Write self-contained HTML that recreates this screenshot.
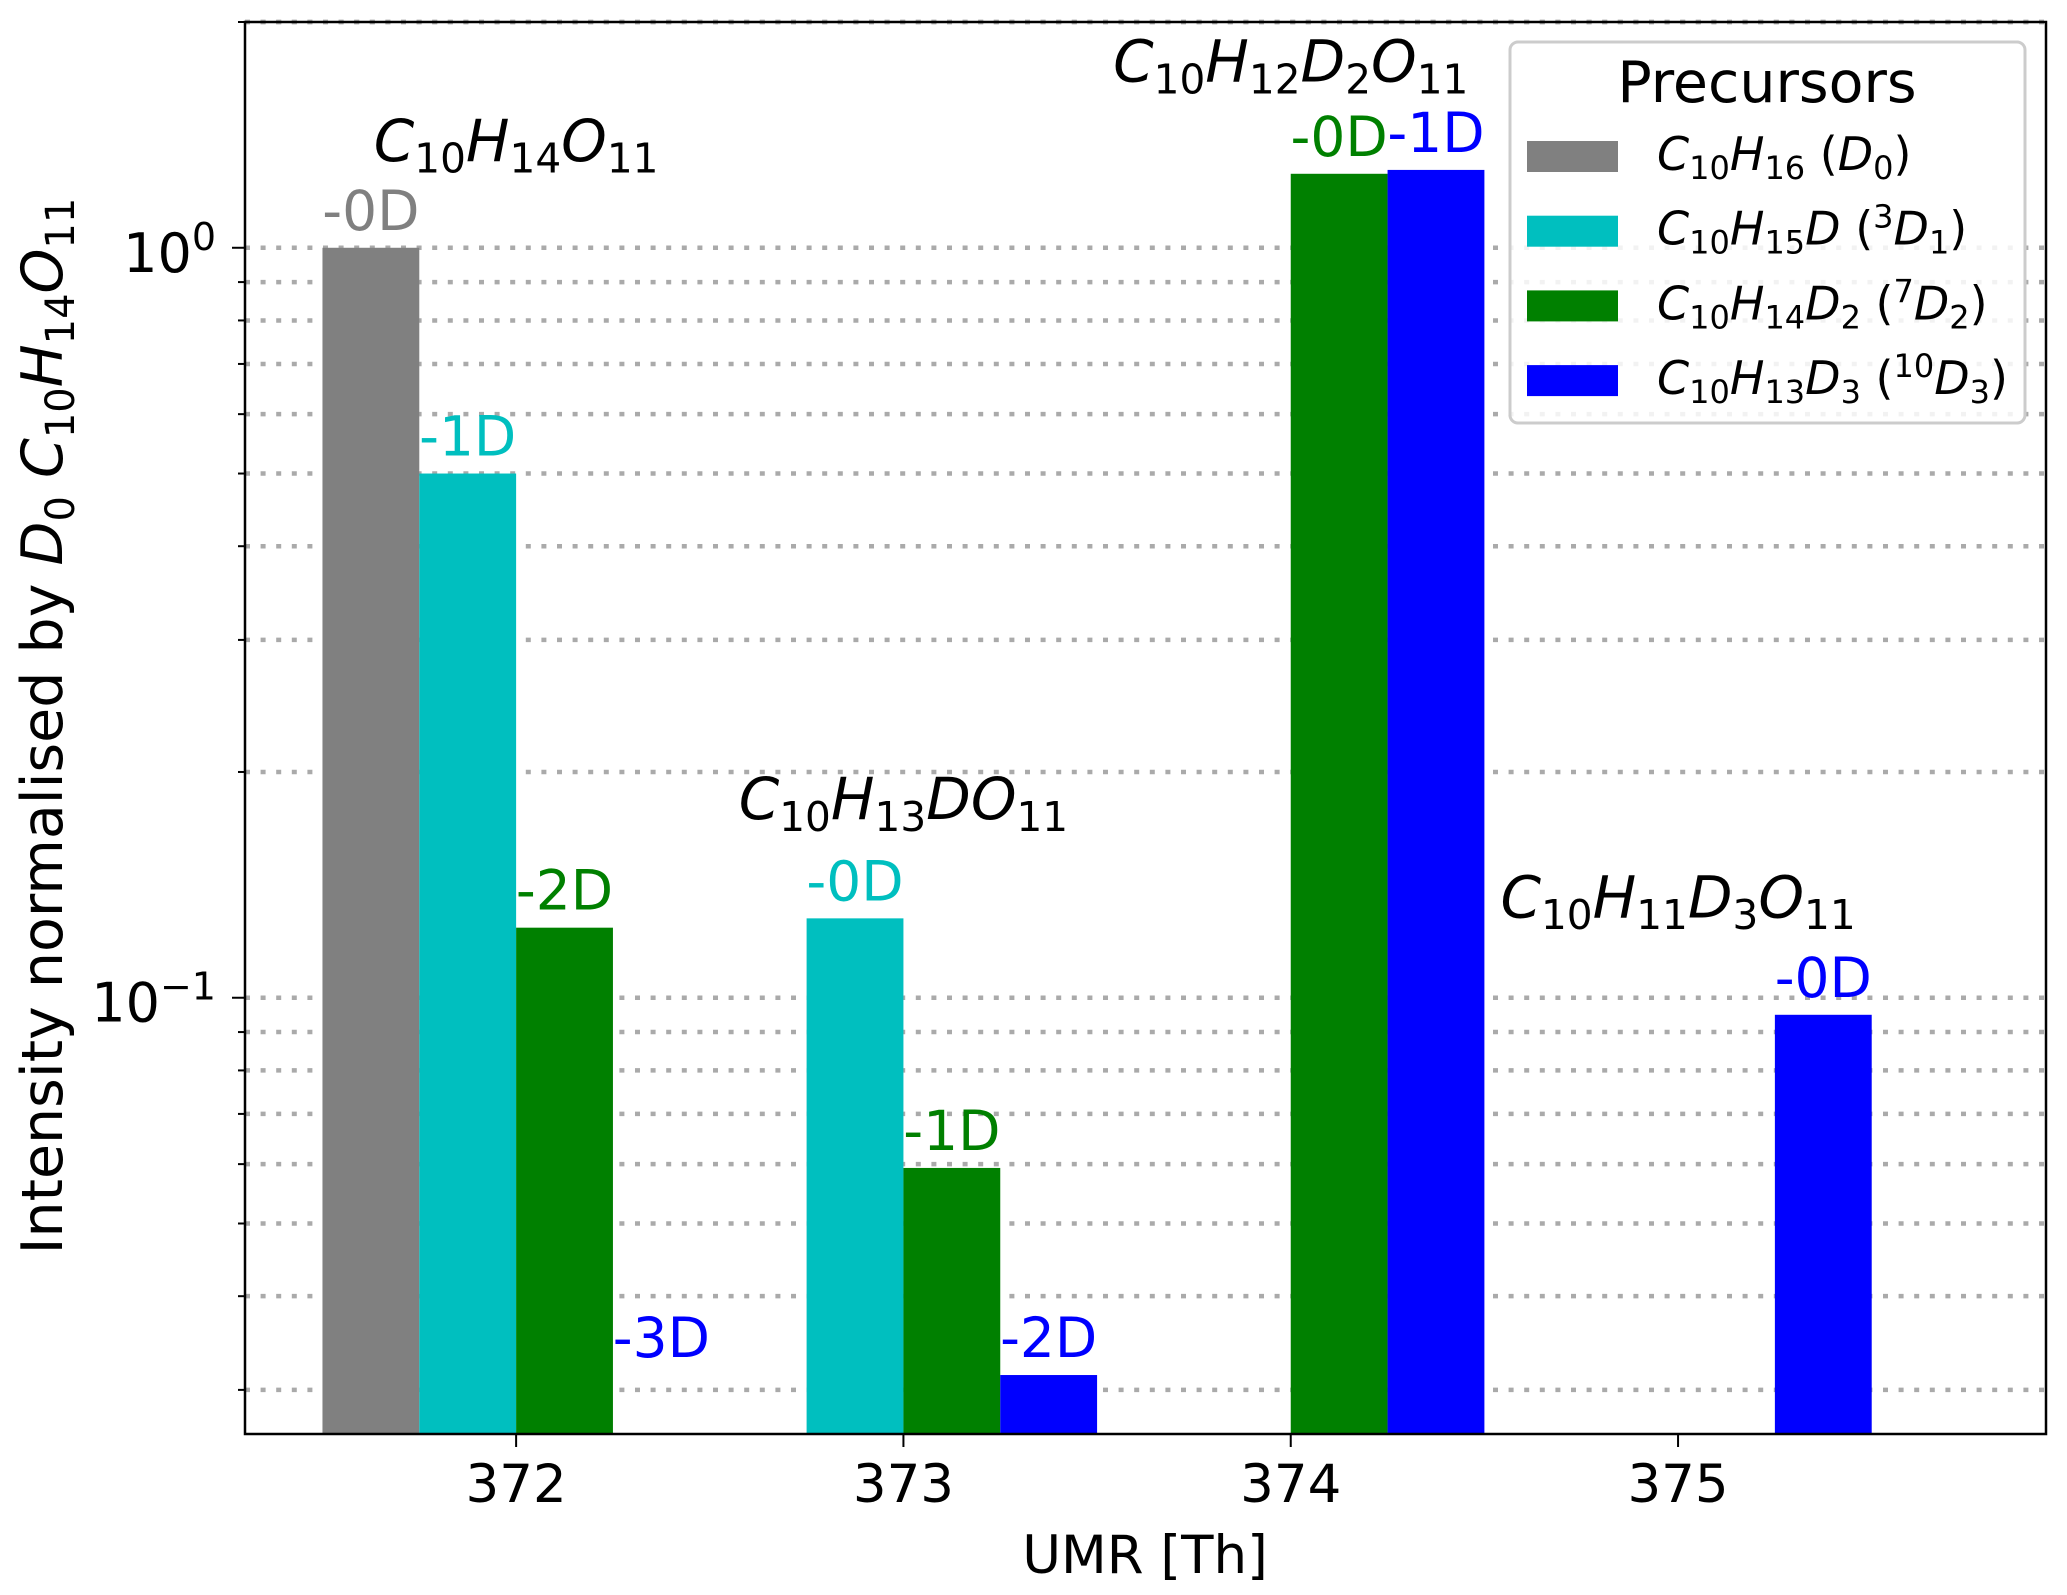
<!DOCTYPE html>
<html><head><meta charset="utf-8"><style>
html,body{margin:0;padding:0;background:#fff;}
svg{display:block;}
text{font-family:"DejaVu Sans","Liberation Sans",sans-serif;}
</style></head><body>
<svg id="chart" width="2067" height="1595" viewBox="0 0 2067 1595" xmlns="http://www.w3.org/2000/svg">
<rect x="0" y="0" width="2067" height="1595" fill="#fff"/>
<g id="grid"></g><g id="bars"></g><g id="labels"></g><g id="axes"></g><g id="legend"></g>
</svg>
<script>
const categories = [372, 373, 374, 375];
const seriesNames = ["D0", "D1", "D2", "D3"];
const greyValues  = [1.0, null, null, null];
const cyanValues  = [0.5, 0.1276, null, null];
const greenValues = [0.124, 0.0593, 1.255, null];
const blueValues  = [0.02, 0.0314, 1.27, 0.0949];
const greyTags  = ["-0D", null, null, null];
const cyanTags  = ["-1D", "-0D", null, null];
const greenTags = ["-2D", "-1D", "-0D", null];
const blueTags  = ["-3D", "-2D", "-1D", "-0D"];
const compoundLabels = ["C10H14O11", "C10H13DO11", "C10H12D2O11", "C10H11D3O11"];
const compoundLabelY = [1.306, 0.173, 1.665, 0.128];
const yMajorTicks = [0.1, 1];
const yMajorLabels = [["10","−1"], ["10","0"]];

const NS = "http://www.w3.org/2000/svg";
const L = 245, R = 2046, T = 22, B = 1434;
const xMin = 371.3, xMax = 375.95;
const yMin = 0.0262, yMax = 2.0;
function xs(v){ return L + (v - xMin) / (xMax - xMin) * (R - L); }
function ys(v){ return B - (Math.log10(v) - Math.log10(yMin)) / (Math.log10(yMax) - Math.log10(yMin)) * (B - T); }
function mk(tag, attrs, parent){ const e = document.createElementNS(NS, tag); for (const k in attrs) e.setAttribute(k, attrs[k]); parent.appendChild(e); return e; }

function mathText(parent, x, y, str, size, anchor, color){
  const t = mk("text", {x:x, y:y, "font-size":size, "text-anchor":anchor, fill:color||"#000"}, parent);
  const re = /([A-Z])(\d*)/g; let m;
  while ((m = re.exec(str))) {
    const a = document.createElementNS(NS, "tspan"); a.setAttribute("font-style","italic"); a.textContent = m[1]; t.appendChild(a);
    if (m[2]) { const s = document.createElementNS(NS, "tspan"); s.setAttribute("font-size", size*0.7); s.setAttribute("dy", size*0.2); s.textContent = m[2]; t.appendChild(s);
      const z = document.createElementNS(NS, "tspan"); z.setAttribute("dy", -size*0.2); z.textContent = "\u200b"; t.appendChild(z); }
  }
  return t;
}

const grid = document.getElementById("grid");
const gridVals = [];
for (let d = -2; d <= 0; d++) for (let k = 1; k <= 9; k++) { const v = k * Math.pow(10, d); if (v >= yMin && v <= yMax*1.001) gridVals.push(v); }
gridVals.push(2);
gridVals.forEach(v => {
  const l = mk("line", {x1:L, x2:R, y1:ys(v), y2:ys(v), stroke:"#aaaaaa", "stroke-width":4.5, "stroke-dasharray":"5 10.6"}, grid);
  
  
});

const bars = document.getElementById("bars"), labels = document.getElementById("labels");
const series = [
  {vals:greyValues, tags:greyTags, color:"#808080", off:-0.5, name:"grey"},
  {vals:cyanValues, tags:cyanTags, color:"#00bfbf", off:-0.25, name:"cyan"},
  {vals:greenValues, tags:greenTags, color:"#008000", off:0, name:"green"},
  {vals:blueValues, tags:blueTags, color:"#0000ff", off:0.25, name:"blue"}
];
const clip = mk("clipPath", {id:"pc"}, document.getElementById("chart")); mk("rect", {x:L, y:T, width:R-L, height:B-T}, clip);
bars.setAttribute("clip-path", "url(#pc)");
series.forEach(s => {
  categories.forEach((c, i) => {
    const v = s.vals[i]; if (v == null) return;
    const x0 = xs(c + s.off), x1 = xs(c + s.off + 0.25);
    const top = Math.max(ys(v), T);
    if (v > yMin) {
      const r = mk("rect", {x:x0, y:top, width:x1-x0, height:B-top, fill:s.color}, bars);
      
      
    }
    if (s.tags[i]) {
      const ly = ys(Math.max(v, 0.0314));
      const t = mk("text", {x:(x0+x1)/2, y:ly-18, "font-size":55, "text-anchor":"middle", fill:s.color}, labels);
      t.textContent = s.tags[i];
      
      
    }
  });
});
categories.forEach((c, i) => {
  const t = mathText(labels, xs(c), ys(compoundLabelY[i]), compoundLabels[i], 58, "middle");
  
  
});

const axes = document.getElementById("axes");
const frame = mk("rect", {x:L, y:T, width:R-L, height:B-T, fill:"none", stroke:"#000", "stroke-width":2.5}, axes);


categories.forEach(c => {
  mk("line", {x1:xs(c), x2:xs(c), y1:B, y2:B+13, stroke:"#000", "stroke-width":2}, axes);
  const t = mk("text", {x:xs(c), y:1502, "font-size":53, "text-anchor":"middle"}, axes);
  t.textContent = c;
  
  
});
gridVals.forEach(v => {
  const major = yMajorTicks.some(m => Math.abs(m - v) < 1e-9);
  mk("line", {x1:L - (major ? 13 : 7), x2:L, y1:ys(v), y2:ys(v), stroke:"#000", "stroke-width":2}, axes);
});
yMajorTicks.forEach((v, i) => {
  const t = mk("text", {x:216, y:ys(v)+24, "font-size":54, "text-anchor":"end"}, axes);
  const a = document.createElementNS(NS, "tspan"); a.textContent = yMajorLabels[i][0]; t.appendChild(a);
  const b = document.createElementNS(NS, "tspan"); b.setAttribute("font-size", 38); b.setAttribute("dy", -22); b.textContent = yMajorLabels[i][1]; t.appendChild(b);
  
  
});
const xt = mk("text", {x:1145, y:1573, "font-size":53, "text-anchor":"middle"}, axes);
xt.textContent = "UMR [Th]";


const yt = mk("text", {x:0, y:0, "font-size":57, "text-anchor":"middle", transform:"translate(62,726) rotate(-90)"}, axes);
yt.innerHTML = 'Intensity normalised by <tspan font-style="italic">D</tspan><tspan font-size="40" dy="12">0</tspan><tspan dy="-12"> </tspan><tspan font-style="italic">C</tspan><tspan font-size="40" dy="12">10</tspan><tspan dy="-12" font-style="italic">H</tspan><tspan font-size="40" dy="12">14</tspan><tspan dy="-12" font-style="italic">O</tspan><tspan font-size="40" dy="12">11</tspan>';



const lg = document.getElementById("legend");
const box = mk("rect", {x:1510, y:42, width:515, height:381, rx:8, fill:"#fff", "fill-opacity":0.85, stroke:"#cccccc", "stroke-width":3}, lg);


const lt = mk("text", {x:1767, y:102, "font-size":57, "text-anchor":"middle"}, lg);
lt.textContent = "Precursors";


const legendTexts = [
  '<tspan font-style="italic">C</tspan><tspan font-size="32" dy="9">10</tspan><tspan dy="-9" font-style="italic">H</tspan><tspan font-size="32" dy="9">16</tspan><tspan dy="-9"> (</tspan><tspan font-style="italic">D</tspan><tspan font-size="32" dy="9">0</tspan><tspan dy="-9">)</tspan>',
  '<tspan font-style="italic">C</tspan><tspan font-size="32" dy="9">10</tspan><tspan dy="-9" font-style="italic">H</tspan><tspan font-size="32" dy="9">15</tspan><tspan dy="-9" font-style="italic">D</tspan><tspan> (</tspan><tspan font-size="32" dy="-17">3</tspan><tspan dy="17" font-style="italic">D</tspan><tspan font-size="32" dy="9">1</tspan><tspan dy="-9">)</tspan>',
  '<tspan font-style="italic">C</tspan><tspan font-size="32" dy="9">10</tspan><tspan dy="-9" font-style="italic">H</tspan><tspan font-size="32" dy="9">14</tspan><tspan dy="-9" font-style="italic">D</tspan><tspan font-size="32" dy="9">2</tspan><tspan dy="-9"> (</tspan><tspan font-size="32" dy="-17">7</tspan><tspan dy="17" font-style="italic">D</tspan><tspan font-size="32" dy="9">2</tspan><tspan dy="-9">)</tspan>',
  '<tspan font-style="italic">C</tspan><tspan font-size="32" dy="9">10</tspan><tspan dy="-9" font-style="italic">H</tspan><tspan font-size="32" dy="9">13</tspan><tspan dy="-9" font-style="italic">D</tspan><tspan font-size="32" dy="9">3</tspan><tspan dy="-9"> (</tspan><tspan font-size="32" dy="-17">10</tspan><tspan dy="17" font-style="italic">D</tspan><tspan font-size="32" dy="9">3</tspan><tspan dy="-9">)</tspan>'
];
series.forEach((s, i) => {
  const py = 141 + i * 74.7;
  const p = mk("rect", {x:1527, y:py, width:91, height:31, fill:s.color}, lg);
  
  
  const t = mk("text", {x:1657, y:py + 29, "font-size":46}, lg);
  t.innerHTML = legendTexts[i];
  
  
});
</script>
</body></html>
